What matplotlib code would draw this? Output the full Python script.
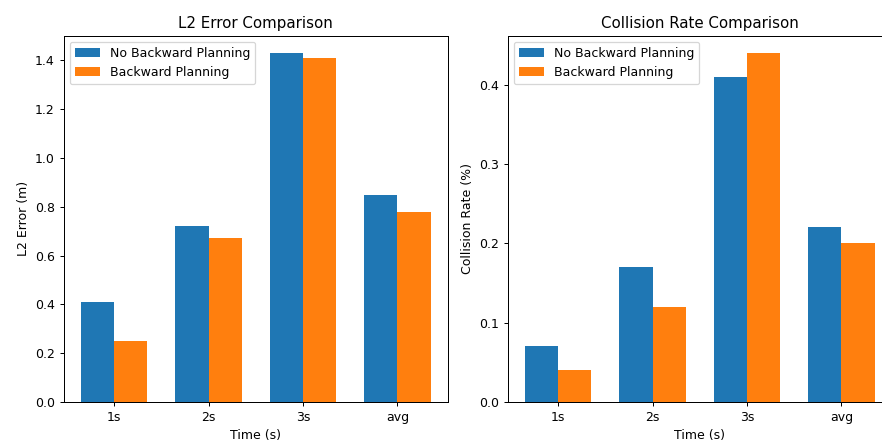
import matplotlib
matplotlib.use("Agg")
import matplotlib.pyplot as plt
import numpy as np

categories = ["1s", "2s", "3s", "avg"]
l2_no_backward = [0.41, 0.72, 1.43, 0.85]
l2_backward = [0.25, 0.67, 1.41, 0.78]
col_no_backward = [0.07, 0.17, 0.41, 0.22]
col_backward = [0.04, 0.12, 0.44, 0.20]

W, H = 882, 442
DPI = 90
fig = plt.figure(figsize=(W / DPI, H / DPI), dpi=DPI)
ax1 = fig.add_axes([63.5 / W, 1 - 402 / H, 384.5 / W, 366.5 / H])
ax2 = fig.add_axes([507.5 / W, 1 - 402 / H, 384.5 / W, 366.5 / H])

x = np.arange(len(categories))
w = 0.35

for ax, a, b, title, ylabel in [
    (ax1, l2_no_backward, l2_backward, "L2 Error Comparison", "L2 Error (m)"),
    (ax2, col_no_backward, col_backward, "Collision Rate Comparison", "Collision Rate (%)"),
]:
    ax.bar(x - w / 2, a, w, label="No Backward Planning", color="#1f77b4")
    ax.bar(x + w / 2, b, w, label="Backward Planning", color="#ff7f0e")
    ax.set_xticks(x)
    ax.set_xticklabels(categories)
    ax.set_title(title)
    ax.set_xlabel("Time (s)")
    ax.set_ylabel(ylabel)
    ax.legend(loc="upper left")

fig.savefig("out.png", dpi=DPI)
